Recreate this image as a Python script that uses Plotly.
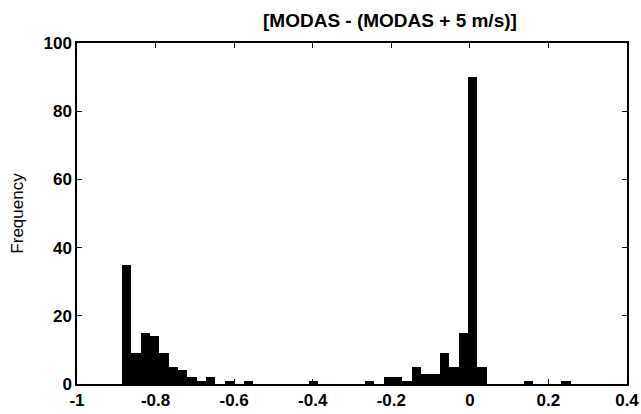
import plotly.graph_objects as go

# histogram
bin_start = -0.8855
bin_width = 0.0238
counts = [35, 9, 15, 14, 9, 5, 4, 2, 1, 2,
          0, 1, 0, 1, 0, 0, 0, 0, 0, 0,
          1, 0, 0, 0, 0, 0, 1, 0, 2, 2,
          1, 5, 3, 3, 9, 5, 15, 90, 5, 0,
          0, 0, 0, 1, 0, 0, 0, 1]

x_ticks = [-1, -0.8, -0.6, -0.4, -0.2, 0, 0.2, 0.4]
x_tick_text = ['-1', '-0.8', '-0.6', '-0.4', '-0.2', '0', '0.2', '0.4']
y_ticks = [0, 20, 40, 60, 80, 100]

title_text = '[MODAS - (MODAS + 5 m/s)]'
y_title = 'Frequency'

centers = [bin_start + bin_width * (i + 0.5) for i in range(len(counts))]

fig = go.Figure()
fig.add_trace(go.Bar(
    x=centers,
    y=counts,
    width=bin_width,
    marker=dict(color='black', line=dict(width=0)),
))

font_family = 'Liberation Sans, Arial, sans-serif'
axis_common = dict(
    showline=True,
    linecolor='black',
    linewidth=1.5,
    mirror='ticks',
    ticks='inside',
    ticklen=5,
    tickcolor='black',
    showgrid=False,
    zeroline=False,
    automargin=False,
    tickfont=dict(family=font_family, size=17, color='black', weight='bold'),
)

fig.update_layout(
    width=641,
    height=414,
    margin=dict(l=77, r=14, t=43, b=30),
    plot_bgcolor='white',
    paper_bgcolor='white',
    showlegend=False,
    bargap=0,
    title=dict(
        text=title_text,
        x=0.569, xref='paper', xanchor='center',
        y=0.952, yref='container', yanchor='middle',
        automargin=False,
        font=dict(family=font_family, size=19, color='black', weight='bold'),
    ),
    xaxis=dict(range=[-1, 0.4], tickvals=x_ticks, ticktext=x_tick_text, **axis_common),
    yaxis=dict(
        range=[0, 100], tickvals=y_ticks,
        title=dict(text=y_title, standoff=16,
                   font=dict(family=font_family, size=17, color='black')),
        **axis_common
    ),
)

# drop the default page margin so the figure fills the window exactly
fig.write_html('out.html', config={'displayModeBar': False},
               post_script="document.body.style.margin='0';")
